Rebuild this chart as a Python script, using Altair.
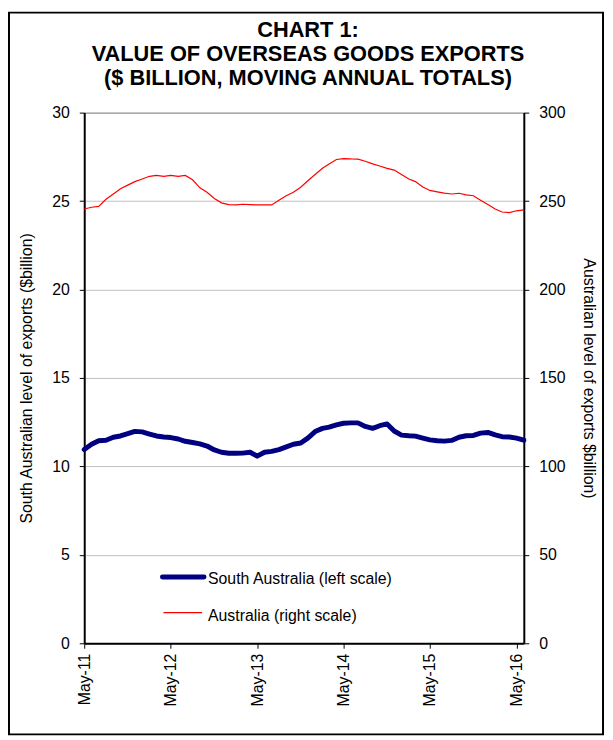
import altair as alt
import pandas as pd

months = pd.date_range("2011-05-01", periods=62, freq="MS").strftime("%Y-%m-%d").tolist()

south_australia = [
    10.95, 11.25, 11.45, 11.48, 11.65, 11.72, 11.85, 11.98, 11.95, 11.83,
    11.72, 11.66, 11.63, 11.55, 11.42, 11.35, 11.27, 11.15, 10.93, 10.80,
    10.74, 10.74, 10.75, 10.80, 10.58, 10.80, 10.85, 10.95, 11.10, 11.25,
    11.32, 11.60, 11.97, 12.15, 12.22, 12.35, 12.44, 12.46, 12.46, 12.26,
    12.15, 12.30, 12.40, 12.00, 11.77, 11.73, 11.71, 11.60, 11.50, 11.45,
    11.43, 11.47, 11.65, 11.73, 11.75, 11.88, 11.92, 11.78, 11.68, 11.66,
    11.60, 11.48,
]

australia = [
    245.5, 246.5, 247.0, 251.0, 254.0, 257.0, 259.0, 261.0, 262.5, 264.0,
    264.5, 264.0, 264.5, 264.0, 264.5, 262.0, 257.5, 255.0, 251.5, 249.0,
    248.0, 247.8, 248.2, 248.0, 247.8, 247.8, 247.8, 250.5, 253.0, 255.0,
    257.8, 261.5, 265.0, 268.5, 271.0, 273.5, 274.0, 273.8, 273.7, 272.5,
    271.0, 269.8, 268.5, 267.5, 265.0, 262.5, 261.0, 258.0, 256.0, 255.2,
    254.5, 254.0, 254.4, 253.5, 253.0, 250.5, 248.0, 245.5, 243.8, 243.5,
    244.5, 245.0,
]

left_ticks = [0, 5, 10, 15, 20, 25, 30]
right_ticks = [0, 50, 100, 150, 200, 250, 300]
tick_years = [2011, 2012, 2013, 2014, 2015, 2016]
legend_labels = ["South Australia (left scale)", "Australia (right scale)"]
title_lines = ["CHART 1:", "VALUE OF OVERSEAS GOODS EXPORTS", "($ BILLION, MOVING ANNUAL TOTALS)"]

FONT = "Liberation Sans"

sa_df = pd.DataFrame({"month": months, "value": south_australia})
au_df = pd.DataFrame({"month": months, "value": australia})

x_enc = alt.X(
    "month:T",
    scale=alt.Scale(
        type="utc",
        domain=[alt.DateTime(year=2011, month=5, date=1, utc=True),
                alt.DateTime(year=2016, month=6, date=1, utc=True)],
    ),
    axis=alt.Axis(
        title=None,
        values=[alt.DateTime(year=y, month=5, date=1, utc=True) for y in tick_years],
        labelExpr="utcFormat(datum.value, '%b-%y')",
        labelAngle=-90,
        labelFontSize=16,
        labelFont=FONT,
        labelColor="black",
        labelPadding=5,
        tickSize=5,
        tickColor="black",
        domainColor="black",
        domainWidth=2,
        grid=False,
    ),
)

sa_line = alt.Chart(sa_df).mark_line(color="#000080", strokeWidth=5, strokeCap="round", strokeJoin="round").encode(
    x=x_enc,
    y=alt.Y(
        "value:Q",
        scale=alt.Scale(domain=[0, 30], nice=False),
        axis=alt.Axis(
            title="South Australian level of exports ($billion)",
            titleFont=FONT,
            titleFontSize=16,
            titleFontWeight="normal",
            titleColor="black",
            titlePadding=17,
            values=left_ticks,
            labelFontSize=16,
            labelFont=FONT,
            labelColor="black",
            labelPadding=10,
            tickSize=5,
            tickColor="black",
            domainColor="black",
            domainWidth=2,
            grid=True,
            gridColor=alt.condition("datum.value == 30", alt.value("#808080"), alt.value("#c0c0c0")),
            gridWidth=1,
        ),
    ),
)

au_line = alt.Chart(au_df).mark_line(color="#FF0000", strokeWidth=1.2).encode(
    x=x_enc,
    y=alt.Y(
        "value:Q",
        scale=alt.Scale(domain=[0, 300], nice=False),
        axis=alt.Axis(
            orient="right",
            title="Australian level of exports $billion)",
            titleFont=FONT,
            titleFontSize=16,
            titleFontWeight="normal",
            titleColor="black",
            titlePadding=16,
            values=right_ticks,
            labelFontSize=16,
            labelFont=FONT,
            labelColor="black",
            labelPadding=10,
            tickSize=5,
            tickColor="black",
            domainColor="black",
            domainWidth=2,
            grid=False,
        ),
    ),
)

title_df = pd.DataFrame({"t": ["\n".join(title_lines)]})
title_text = alt.Chart(title_df).mark_text(
    align="center", baseline="alphabetic", fontSize=22, fontWeight="bold", font=FONT,
    color="black", lineBreak="\n", lineHeight=24,
).encode(x=alt.value(226), y=alt.value(-76), text="t:N")

leg_df1 = pd.DataFrame({"label": [legend_labels[0]]})
leg_df2 = pd.DataFrame({"label": [legend_labels[1]]})

leg1_rule = alt.Chart(leg_df1).mark_rule(color="#000080", strokeWidth=5, strokeCap="round").encode(
    x=alt.value(79), x2=alt.value(121), y=alt.value(469)
)
leg1_text = alt.Chart(leg_df1).mark_text(align="left", baseline="middle", fontSize=16, font=FONT, color="black").encode(
    x=alt.value(125), y=alt.value(471), text="label:N"
)
leg2_rule = alt.Chart(leg_df2).mark_rule(color="#FF0000", strokeWidth=1.2).encode(
    x=alt.value(80), x2=alt.value(119), y=alt.value(505)
)
leg2_text = alt.Chart(leg_df2).mark_text(align="left", baseline="middle", fontSize=16, font=FONT, color="black").encode(
    x=alt.value(125), y=alt.value(508), text="label:N"
)

frame = alt.Chart(pd.DataFrame({"f": [1]})).mark_rect(fillOpacity=0, stroke="black", strokeWidth=2).encode(
    x=alt.value(-76), x2=alt.value(524), y=alt.value(-101), y2=alt.value(628)
)

chart = alt.layer(
    sa_line, au_line, title_text, leg1_rule, leg1_text, leg2_rule, leg2_text, frame
).resolve_scale(
    y="independent"
).properties(
    width=444,
    height=536,
    autosize=alt.AutoSizeParams(type="none"),
    padding={"left": 77, "top": 102, "right": 82, "bottom": 93},
).configure_view(
    stroke="#808080", strokeWidth=1
).configure(
    font=FONT
)

chart.save("out.html", embed_options={"renderer": "svg", "actions": False})
